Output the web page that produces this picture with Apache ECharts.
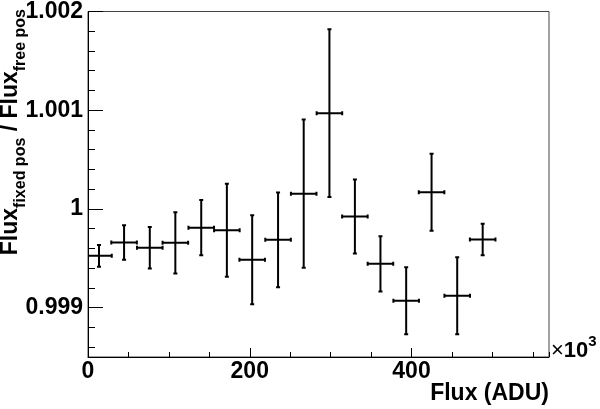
<!DOCTYPE html>
<html>
<head>
<meta charset="utf-8">
<script src="https://cdn.jsdelivr.net/npm/echarts@6/dist/echarts.min.js"></script>
<style>
  html, body { margin: 0; padding: 0; background: #fff; }
  #chart { width: 600px; height: 409px; }
</style>
</head>
<body>
<div id="chart"></div>
<script>
// flux bin centres (x10^3 ADU) and half widths
const fluxCenters = [13.6, 44.6, 76.4, 108, 140, 171.7, 203, 235, 266.7, 298.5, 330, 361.6, 393.4, 424.8, 456.5, 488]
const fluxHalfWidths = [15.8, 15.8, 15.8, 15.8, 15.8, 15.8, 15.8, 15.8, 15.8, 15.8, 15.8, 15.8, 15.8, 15.8, 15.8, 15.8]
// ratio fixed / free and its error
const ratios = [0.999525, 0.99966, 0.999606, 0.999657, 0.99981, 0.999784, 0.999485, 0.999687, 1.000155, 1.00097, 0.999923, 0.999444, 0.99907, 1.000169, 0.999121, 0.99969]
const ratioErrors = [0.00011, 0.000175, 0.00021, 0.00031, 0.00028, 0.00047, 0.00045, 0.00048, 0.00075, 0.00085, 0.000375, 0.00028, 0.00034, 0.00039, 0.00039, 0.00016]

const font = 'Liberation Sans, Arial, Helvetica, sans-serif'
const chart = echarts.init(document.getElementById('chart'))

const points = fluxCenters.map((x, i) => [x, ratios[i], fluxHalfWidths[i], ratioErrors[i]])

function renderErrorCross(params, api) {
  const x = api.value(0)
  const y = api.value(1)
  const xe = api.value(2)
  const ye = api.value(3)
  const left = api.coord([x - xe, y])
  const right = api.coord([x + xe, y])
  const top = api.coord([x, y + ye])
  const bottom = api.coord([x, y - ye])
  const cap = 2
  const style = { stroke: '#000', lineWidth: 2 }
  const line = (x1, y1, x2, y2) => ({ type: 'line', shape: { x1, y1, x2, y2 }, style })
  return {
    type: 'group',
    children: [
      line(left[0], left[1], right[0], right[1]),
      line(top[0], top[1], bottom[0], bottom[1]),
      line(left[0], left[1] - cap, left[0], left[1] + cap),
      line(right[0], right[1] - cap, right[0], right[1] + cap),
      line(top[0] - cap, top[1], top[0] + cap, top[1]),
      line(bottom[0] - cap, bottom[1], bottom[0] + cap, bottom[1])
    ]
  }
}

chart.setOption({
  animation: false,
  backgroundColor: '#fff',
  grid: {
    left: 88, right: 51, top: 10, bottom: 52,
    show: true, borderColor: '#444', borderWidth: 1, backgroundColor: 'transparent'
  },
  xAxis: [
    {
      type: 'value', min: 0, max: 570, interval: 200,
      axisLine: { show: true, lineStyle: { color: '#000', width: 1 } },
      axisTick: { show: true, inside: true, length: 9, lineStyle: { color: '#000' } },
      axisLabel: { show: true, showMaxLabel: false, margin: 3, color: '#000', fontFamily: font, fontWeight: 'bold', fontSize: 23 },
      splitLine: { show: false }
    },
    {
      type: 'value', min: 0, max: 570, interval: 50, position: 'bottom',
      axisLine: { show: false },
      axisTick: { show: true, inside: true, length: 5, lineStyle: { color: '#000' } },
      axisLabel: { show: false },
      splitLine: { show: false }
    }
  ],
  yAxis: [
    {
      type: 'value', min: 0.9985, max: 1.002, splitNumber: 4, minInterval: 0.001, maxInterval: 0.001,
      axisLine: { show: true, lineStyle: { color: '#000', width: 1 } },
      axisTick: { show: true, inside: true, length: 15, lineStyle: { color: '#000' } },
      axisLabel: {
        show: true, margin: 5, color: '#000', fontFamily: font, fontWeight: 'bold', fontSize: 23,
        formatter: v => {
          const k = v * 1000
          return Math.abs(k - Math.round(k)) < 1e-6 ? String(+v.toFixed(3)) : ''
        }
      },
      splitLine: { show: false }
    },
    {
      type: 'value', min: 0.9985, max: 1.002, splitNumber: 17, minInterval: 0.0002, maxInterval: 0.0002, position: 'left',
      axisLine: { show: false },
      axisTick: { show: true, inside: true, length: 7, lineStyle: { color: '#000' } },
      axisLabel: { show: false },
      splitLine: { show: false }
    }
  ],
  graphic: [
    {
      type: 'text', x: -1, y: 9, rotation: Math.PI / 2,
      style: {
        text: '{m|Flux}{s|fixed pos}{m| / Flux}{s|free pos}',
        align: 'right', verticalAlign: 'top',
        fill: '#000', font: 'bold 23px ' + font,
        rich: {
          m: { fontFamily: font, fontWeight: 'bold', fontSize: 23, lineHeight: 30, verticalAlign: 'top', fill: '#000' },
          s: { fontFamily: font, fontWeight: 'bold', fontSize: 16, lineHeight: 30, verticalAlign: 'bottom', fill: '#000' }
        }
      }
    },
    {
      type: 'text', x: 549, y: 394,
      style: { text: 'Flux (ADU)', align: 'right', verticalAlign: 'middle', fill: '#000', font: 'bold 23px ' + font }
    },
    {
      type: 'text', x: 551, y: 348,
      style: {
        text: '{x|×}{n|10}{e|3}',
        align: 'left', verticalAlign: 'middle',
        fill: '#000', font: 'bold 22px ' + font,
        rich: {
          x: { font: '22px ' + font, fontFamily: font, fontSize: 22, fill: '#000', lineHeight: 28, verticalAlign: 'bottom' },
          n: { font: 'bold 22px ' + font, fontFamily: font, fontWeight: 'bold', fontSize: 22, fill: '#000', lineHeight: 28, verticalAlign: 'bottom' },
          e: { font: 'bold 15px ' + font, fontFamily: font, fontWeight: 'bold', fontSize: 15, fill: '#000', lineHeight: 28, verticalAlign: 'top' }
        }
      }
    }
  ],
  series: [
    {
      type: 'custom',
      xAxisIndex: 0,
      yAxisIndex: 0,
      clip: true,
      renderItem: renderErrorCross,
      encode: { x: 0, y: 1 },
      data: points
    }
  ]
})
</script>
</body>
</html>
